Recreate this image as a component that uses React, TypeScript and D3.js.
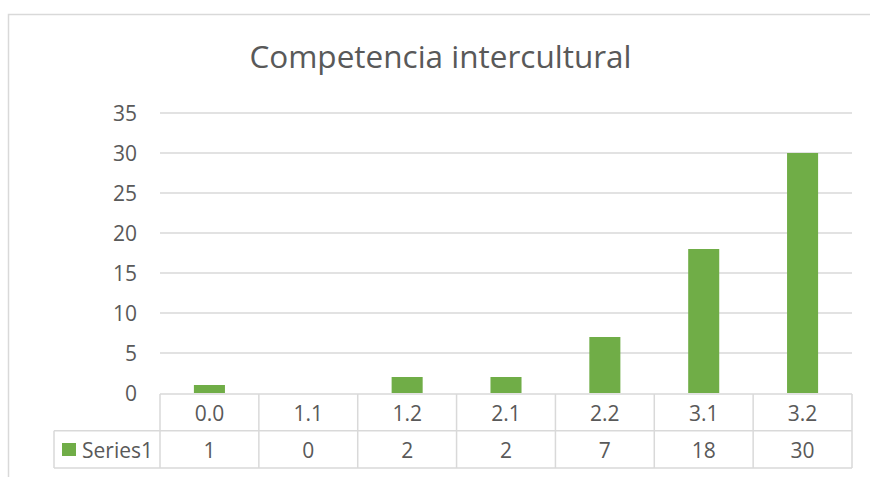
import React from "react";
import * as d3 from "d3";

const title = "Competencia intercultural";
const categories = ["0.0", "1.1", "1.2", "2.1", "2.2", "3.1", "3.2"];
const seriesName = "Series1";
const values = [1, 0, 2, 2, 7, 18, 30];
const yTicks = [0, 5, 10, 15, 20, 25, 30, 35];

const W = 870;
const H = 477;
const FONT = "'Open Sans', sans-serif";
const TEXT = "#595959";
const GRID = "#d9d9d9";
const BAR = "#70ad47";

export default function App() {
  const plotLeft = 160;
  const plotRight = 852;
  const plotTop = 113;
  const plotBottom = 393;

  const y = d3.scaleLinear().domain([0, 35]).range([plotBottom, plotTop]);
  const x = d3
    .scaleBand<string>()
    .domain(categories)
    .range([plotLeft, plotRight])
    .paddingInner(0.686)
    .paddingOuter(0.343);
  const step = x.step();
  const colEdge = (i: number) => plotLeft + i * step;

  const row1Top = 394;
  const row2Top = 430.7;
  const row2Bottom = 468;
  const tableLeft = 54;

  return (
    <svg
      width={W}
      height={H}
      style={{ position: "absolute", left: 0, top: 0, background: "#fff" }}
    >
      <rect x={8.5} y={14.5} width={W + 20} height={H + 20} fill="#fff" stroke={GRID} strokeWidth={1.5} />
      <text
        x={440.5}
        y={67.5}
        textAnchor="middle"
        fontFamily={FONT}
        fontSize={31.5}
        fill={TEXT}
      >
        {title}
      </text>
      {yTicks.map((t) => (
        <g key={t}>
          {t > 0 && (
            <line x1={plotLeft} x2={plotRight} y1={y(t)} y2={y(t)} stroke={GRID} strokeWidth={1.5} />
          )}
          <text
            x={137}
            y={y(t) + 7.5}
            textAnchor="end"
            fontFamily={FONT}
            fontSize={21}
            fill={TEXT}
          >
            {t}
          </text>
        </g>
      ))}
      {categories.map((c, i) => (
        <rect
          key={c}
          x={x(c)}
          y={y(values[i])}
          width={x.bandwidth()}
          height={y(0) - y(values[i])}
          fill={BAR}
        />
      ))}
      {/* data table */}
      <g stroke={GRID} strokeWidth={1.5} fill="none">
        <line x1={plotLeft} x2={plotRight} y1={row1Top} y2={row1Top} />
        <line x1={tableLeft} x2={plotRight} y1={row2Top} y2={row2Top} />
        <line x1={tableLeft} x2={plotRight} y1={row2Bottom} y2={row2Bottom} />
        <line x1={tableLeft} x2={tableLeft} y1={row2Top} y2={row2Bottom} />
        {d3.range(categories.length + 1).map((i) => (
          <line key={i} x1={colEdge(i)} x2={colEdge(i)} y1={row1Top} y2={row2Bottom} />
        ))}
      </g>
      {categories.map((c, i) => (
        <g key={c}>
          <text
            x={colEdge(i) + step / 2}
            y={420.5}
            textAnchor="middle"
            fontFamily={FONT}
            fontSize={21}
            fill={TEXT}
          >
            {c}
          </text>
          <text
            x={colEdge(i) + step / 2}
            y={457.5}
            textAnchor="middle"
            fontFamily={FONT}
            fontSize={21}
            fill={TEXT}
          >
            {values[i]}
          </text>
        </g>
      ))}
      <rect x={62} y={443} width={14} height={13} fill={BAR} />
      <text x={82} y={457.5} fontFamily={FONT} fontSize={21} fill={TEXT}>
        {seriesName}
      </text>
    </svg>
  );
}
